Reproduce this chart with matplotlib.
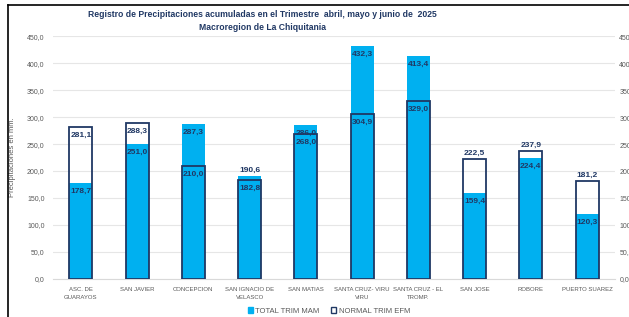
import matplotlib
matplotlib.use("Agg")
import matplotlib.pyplot as plt
from matplotlib.lines import Line2D
from matplotlib.patches import Patch

plt.rcParams["font.family"] = ["Liberation Sans", "DejaVu Sans"]

estaciones = ["ASC. DE\nGUARAYOS", "SAN JAVIER", "CONCEPCION", "SAN IGNACIO DE\nVELASCO",
              "SAN MATIAS", "SANTA CRUZ- VIRU\nVIRU", "SANTA CRUZ - EL\nTROMP.",
              "SAN JOSE", "ROBORE", "PUERTO SUAREZ"]
total_mam = [178.7, 251.0, 287.3, 190.6, 286.0, 432.3, 413.4, 159.4, 224.4, 120.3]
normal_efm = [281.1, 288.3, 210.0, 182.8, 268.0, 304.9, 329.0, 222.5, 237.9, 181.2]
y_ticks = [0, 50, 100, 150, 200, 250, 300, 350, 400, 450]

# label goes inside the bar top (True) or just above it (False)
total_inside = [True, True, True, False, True, True, True, True, True, True]
normal_inside = [True, True, True, True, True, True, True, False, False, False]

azul = "#00B0F0"
marino = "#203864"
gris = "#595959"

fig = plt.figure(figsize=(6.29, 3.17), dpi=100)
ax = fig.add_axes([0.084, 0.12, 0.894, 0.766])
x = list(range(len(estaciones)))
w = 0.41

ax.bar(x, total_mam, width=w, color=azul, zorder=2, label="TOTAL TRIM MAM")
ax.bar(x, normal_efm, width=w, facecolor="none", edgecolor=marino, linewidth=1.3,
       zorder=3, label="NORMAL TRIM EFM")

for xi, v, ins in zip(x, total_mam, total_inside):
    ax.annotate(f"{v:.1f}".replace(".", ","), (xi, v), xytext=(0, -6 if ins else 4),
                textcoords="offset points", ha="center", va="center",
                fontsize=6, fontweight="bold", color=marino, zorder=4)
for xi, v, ins in zip(x, normal_efm, normal_inside):
    ax.annotate(f"{v:.1f}".replace(".", ","), (xi, v), xytext=(0, -6 if ins else 4),
                textcoords="offset points", ha="center", va="center",
                fontsize=6, fontweight="bold", color=marino, zorder=4)

ax.set_ylim(0, 450)
ax.set_xlim(-0.5, len(estaciones) - 0.5)
ax.set_yticks(y_ticks)
ax.set_yticklabels([f"{t:.1f}".replace(".", ",") for t in y_ticks], fontsize=5, color=gris)
ax.set_xticks(x)
ax.set_xticklabels(estaciones, fontsize=4.3, color=gris, linespacing=1.6)
ax.tick_params(axis="both", length=0, pad=6)
ax.grid(axis="y", color="#E6E6E6", linewidth=0.8, zorder=0)
for s in ["top", "right", "left"]:
    ax.spines[s].set_visible(False)
ax.spines["bottom"].set_color("#D9D9D9")
ax.set_ylabel("Precipitaciones en mm.", fontsize=5.5, color=gris, labelpad=8)

ax2 = ax.twinx()
ax2.set_ylim(0, 450)
ax2.set_yticks(y_ticks)
ax2.set_yticklabels([f"{t:.1f}".replace(".", ",") for t in y_ticks], fontsize=5, color=gris)
ax2.tick_params(axis="y", length=0, pad=3)
for s in ax2.spines.values():
    s.set_visible(False)

fig.text(0.417, 0.953, "Registro de Precipitaciones acumuladas en el Trimestre  abril, mayo y junio de  2025",
         ha="center", va="center", fontsize=6.2, fontweight="bold", color=marino)
fig.text(0.417, 0.912, "Macroregion de La Chiquitania",
         ha="center", va="center", fontsize=6.2, fontweight="bold", color=marino)

handles = [Patch(facecolor=azul, edgecolor=azul),
           Patch(facecolor="white", edgecolor=marino, linewidth=1)]
fig.legend(handles, ["TOTAL TRIM MAM", "NORMAL TRIM EFM"], loc="center",
           bbox_to_anchor=(0.523, 0.019), ncol=2, frameon=False, fontsize=5.5,
           labelcolor=gris, handlelength=0.7, handleheight=0.7, handletextpad=0.3,
           columnspacing=1.5)

fig.add_artist(Line2D([8 / 629, 8 / 629], [0, 1 - 5 / 317], color="black", linewidth=1.2))
fig.add_artist(Line2D([8 / 629, 1], [1 - 5 / 317, 1 - 5 / 317], color="black", linewidth=1.2))

fig.savefig("out.png", dpi=100)
